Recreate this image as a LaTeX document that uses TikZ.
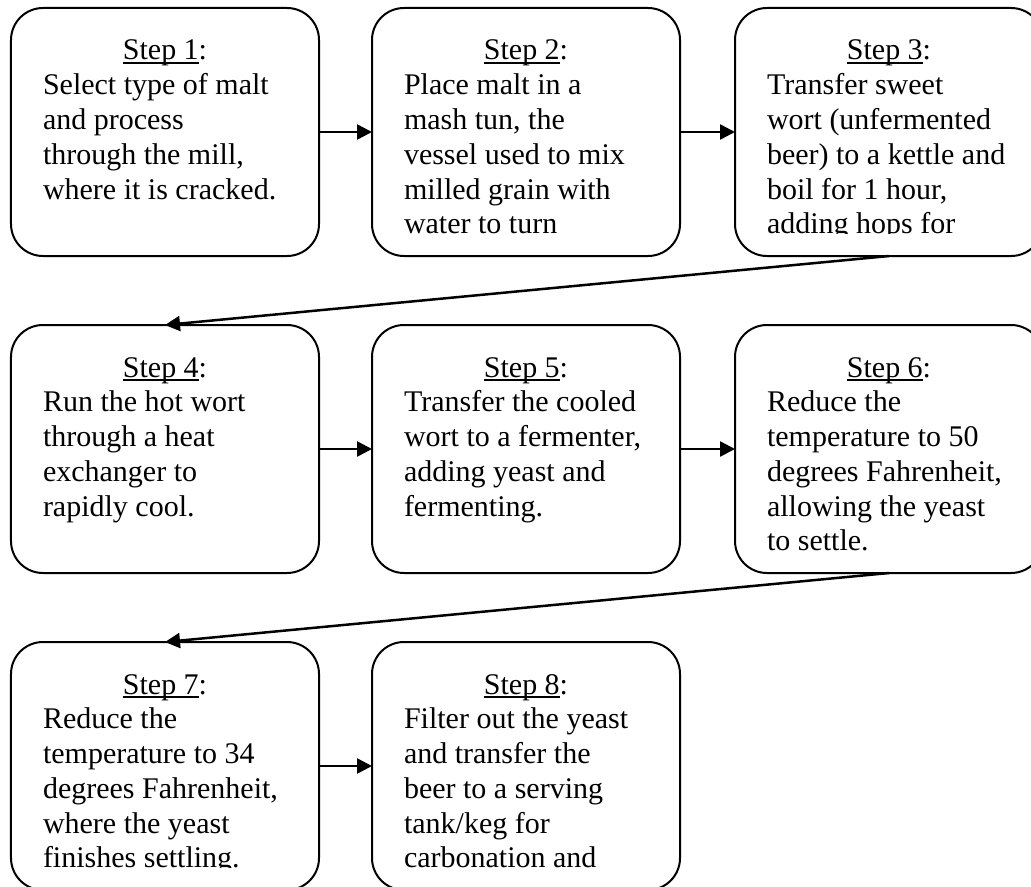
\documentclass[tikz,border=0pt]{standalone}
\usepackage{fontspec}
\setmainfont{Liberation Serif}
\usetikzlibrary{arrows.meta}
\newcommand{\myul}[1]{\leavevmode\setbox0\hbox{#1}\rlap{\rule[-1.5pt]{\wd0}{0.6pt}}\box0}
\newcommand{\stepbody}[2]{\vtop{\fontsize{12}{13.9}\selectfont\parindent=0pt\hsize=97.6pt\centering\myul{Step #1}:\par\hsize=200pt\raggedright #2\par}}
\begin{document}
\begin{tikzpicture}[x=0.4pt,y=-0.4pt,
  box/.style={draw, line width=0.8pt, rounded corners=12.8pt, minimum width=123.2pt, minimum height=99.2pt, inner sep=0pt, outer sep=0pt},
  flow/.style={line width=1pt, -{Triangle[length=6pt,width=6pt]}},
  txt/.style={anchor=base west, inner sep=0pt, outer sep=0pt}]
\clip (0,0) rectangle (1031,886);
% boxes
\node[box] (b1) at (165,132) {};
\node[box] (b2) at (526,132) {};
\node[box] (b3) at (889,132) {};
\node[box] (b4) at (165,449) {};
\node[box] (b5) at (526,449) {};
\node[box] (b6) at (889,449) {};
\node[box] (b7) at (165,766) {};
\node[box] (b8) at (526,766) {};
% texts
\begin{scope}\clip (11,8) rectangle (319,233);
\node[txt] (t1) at (43,60) {\stepbody{1}{Select type of malt\\and process\\through the mill,\\where it is cracked.}};
\end{scope}
\begin{scope}\clip (372,8) rectangle (680,233);
\node[txt] (t2) at (404,60) {\stepbody{2}{Place malt in a\\mash tun, the\\vessel used to mix\\milled grain with\\water to turn}};
\end{scope}
\begin{scope}\clip (735,8) rectangle (1043,233);
\node[txt] (t3) at (767,60) {\stepbody{3}{Transfer sweet\\wort (unfermented\\beer) to a kettle and\\boil for 1 hour,\\adding hops for}};
\end{scope}
\begin{scope}\clip (11,325) rectangle (319,550);
\node[txt] (t4) at (43,377) {\stepbody{4}{Run the hot wort\\through a heat\\exchanger to\\rapidly cool.}};
\end{scope}
\begin{scope}\clip (372,325) rectangle (680,550);
\node[txt] (t5) at (404,377) {\stepbody{5}{Transfer the cooled\\wort to a fermenter,\\adding yeast and\\fermenting.}};
\end{scope}
\begin{scope}\clip (735,325) rectangle (1043,550);
\node[txt] (t6) at (767,377) {\stepbody{6}{Reduce the\\temperature to 50\\degrees Fahrenheit,\\allowing the yeast\\to settle.}};
\end{scope}
\begin{scope}\clip (11,642) rectangle (319,867);
\node[txt] (t7) at (43,694) {\stepbody{7}{Reduce the\\temperature to 34\\degrees Fahrenheit,\\where the yeast\\finishes settling.}};
\end{scope}
\begin{scope}\clip (372,642) rectangle (680,867);
\node[txt] (t8) at (404,694) {\stepbody{8}{Filter out the yeast\\and transfer the\\beer to a serving\\tank/keg for\\carbonation and}};
\end{scope}
% connectors
\draw[flow] (b1.east) -- (b2.west);
\draw[flow] (b2.east) -- (b3.west);
\draw[flow] (b3.south) -- (b4.north);
\draw[flow] (b4.east) -- (b5.west);
\draw[flow] (b5.east) -- (b6.west);
\draw[flow] (b6.south) -- (b7.north);
\draw[flow] (b7.east) -- (b8.west);
\end{tikzpicture}
\end{document}
